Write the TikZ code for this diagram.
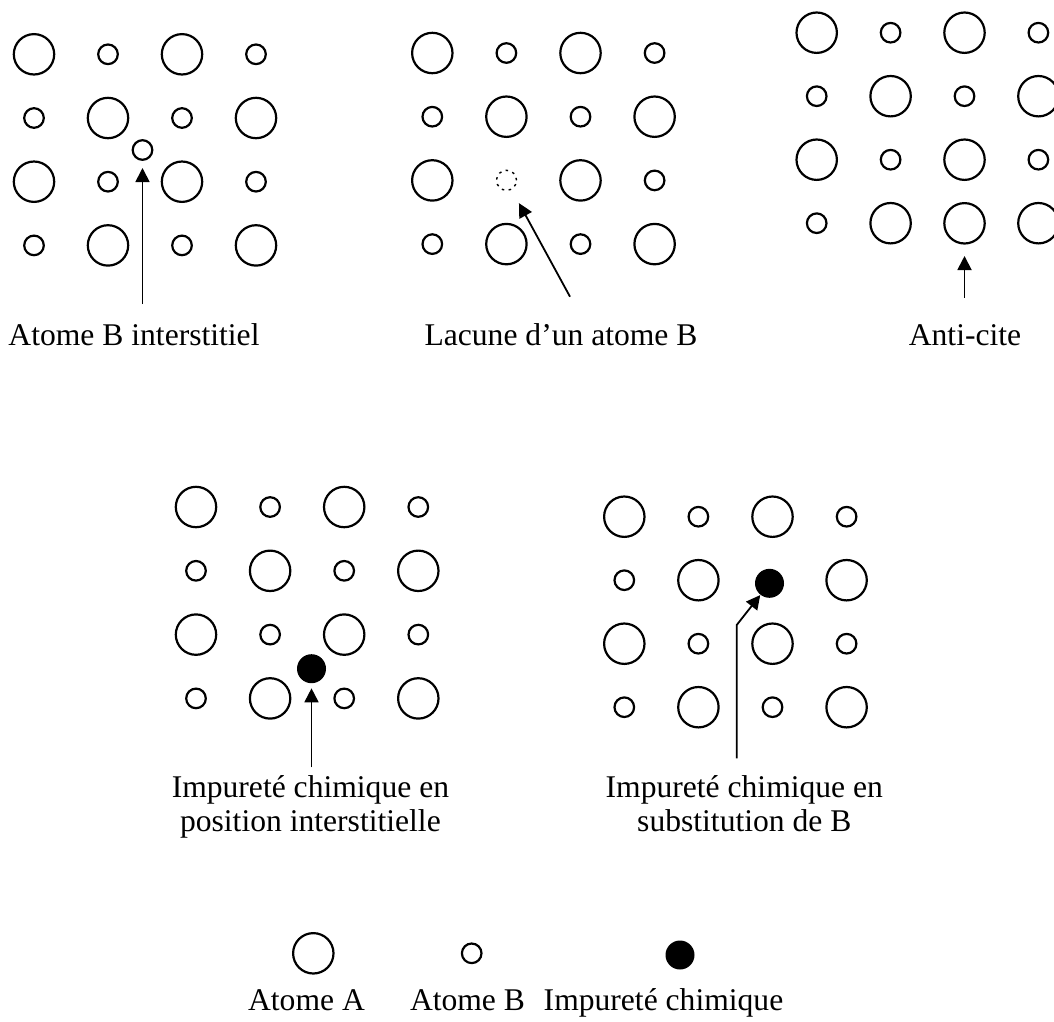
\documentclass[tikz,border=0pt]{standalone}
\usepackage{fontspec}
\setmainfont{Liberation Serif}
\usetikzlibrary{arrows.meta}

\tikzset{
  site/.style={circle, inner sep=0pt, line width=2.2pt},
  atomA/.style={site, draw, minimum size=40.4pt},
  atomB/.style={site, draw, minimum size=19.6pt},
  vacancy/.style={site, draw, line width=1.4pt, dash pattern=on 2.5pt off 4.5pt, minimum size=20pt},
  impurity/.style={site, fill=black, minimum size=29pt},
  arr/.style={line width=1.8pt, -{Triangle[length=14pt,width=14pt]}},
  lbl/.style={inner sep=0pt, anchor=base, align=center,
              font=\fontsize{31.6}{34.4}\selectfont},
}

% 4x4 lattice of alternating A/B sites; the cell given as #6 (row-col) is left empty
\newcommand\lattice[6]{%
  \foreach \r in {1,...,4}{%
    \foreach \c in {1,...,4}{%
      \edef\cell{\r-\c}%
      \def\skipcell{#6}%
      \ifx\cell\skipcell\else
        \pgfmathtruncatemacro\parity{mod(\r+\c,2)}%
        \ifnum\parity=0 \def\kind{atomA}\else\def\kind{atomB}\fi
        \node[\kind] (#1-\r-\c) at ({#2+(\c-1)*#4},{#3+(\r-1)*#5}) {};
      \fi
    }%
  }%
}

\begin{document}
\begin{tikzpicture}[x=1pt, y=-1pt]
  \useasboundingbox (0,0) rectangle (1054,1021);

  % --- interstitial B atom
  \lattice{ga}{34}{54.3}{74}{63.7}{0-0}
  \node[atomB] (ga-int) at (142.5,150) {};
  \coordinate (ga-tail) at (142.5,304);
  \draw[arr, shorten >=18pt] (ga-tail) -- (ga-int.center);
  \node[lbl] (ga-lbl) at (134,345) {Atome B interstitiel};

  % --- vacancy of a B atom
  \lattice{gb}{432.3}{53}{74.1}{63.7}{3-2}
  \node[vacancy] (gb-vac) at (506.5,180.3) {};
  \coordinate (gb-tail) at (570,296.7);
  \draw[arr, shorten >=26pt] (gb-tail) -- (gb-vac.center);
  \node[lbl] (gb-lbl) at (561,345) {Lacune d’un atome B};

  % --- antisite
  \lattice{gc}{816.7}{32.7}{73.9}{63.5}{4-3}
  \node[atomA] (gc-anti) at (964.5,223.3) {};
  \coordinate (gc-tail) at (964.5,297.7);
  \draw[arr, shorten >=32.7pt] (gc-tail) -- (gc-anti.center);
  \node[lbl] (gc-lbl) at (965,345) {Anti-cite};

  % --- interstitial impurity
  \lattice{gd}{196}{507}{74.1}{63.8}{0-0}
  \node[impurity] (gd-imp) at (311.5,668.7) {};
  \coordinate (gd-tail) at (311.5,767.3);
  \draw[arr, shorten >=19.6pt] (gd-tail) -- (gd-imp.center);
  % base anchor of a two-line label sits on its last line
  \node[lbl] (gd-lbl) at (310.4,831.7) {Impureté chimique en\\position interstitielle};

  % --- substitutional impurity on a B site
  \lattice{ge}{624.3}{516.7}{74.1}{63.5}{2-3}
  \node[impurity] (ge-imp) at (769.5,583.3) {};
  \coordinate (ge-tail) at (736.7,758.3);
  \coordinate (ge-bend) at (736.7,625);
  \draw[arr, shorten >=15pt] (ge-tail) -- (ge-bend) -- (ge-imp.center);
  \node[lbl] (ge-lbl) at (744.3,831.7) {Impureté chimique en\\substitution de B};

  % --- legend
  \node[atomA] (leg-a) at (313.3,953.3) {};
  \node[atomB] (leg-b) at (471.7,953.3) {};
  \node[impurity] (leg-i) at (680,955) {};
  \node[lbl] (leg-a-lbl) at (306.5,1010) {Atome A};
  \node[lbl] (leg-b-lbl) at (467.5,1010) {Atome B};
  \node[lbl] (leg-i-lbl) at (663.5,1010) {Impureté chimique};
\end{tikzpicture}
\end{document}
